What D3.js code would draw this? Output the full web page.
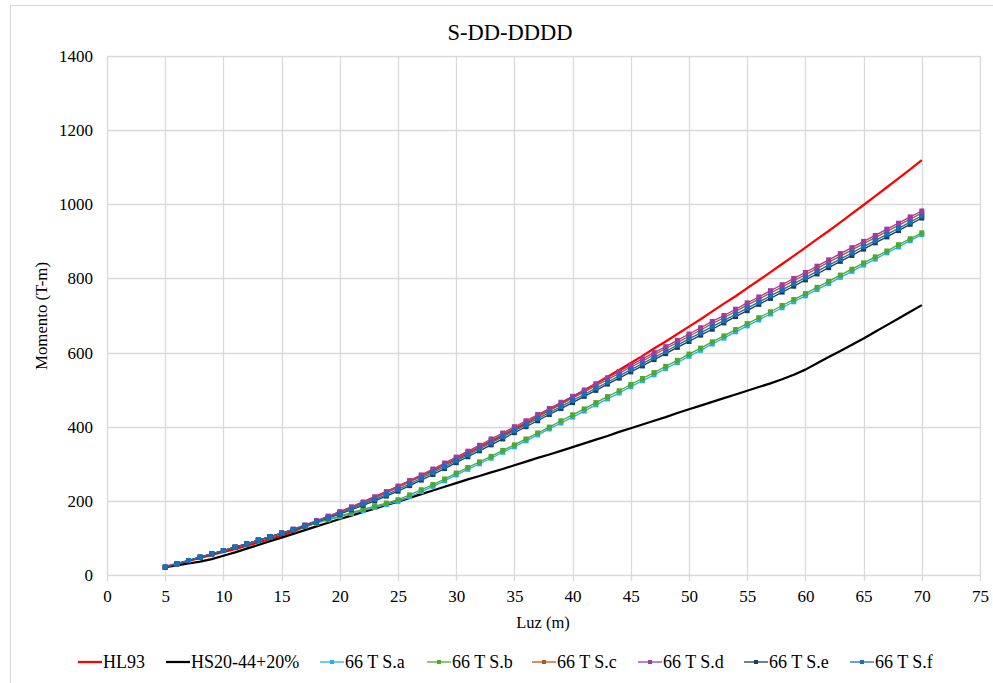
<!DOCTYPE html>
<html>
<head>
<meta charset="utf-8">
<script src="https://cdn.jsdelivr.net/npm/d3@7"></script>
<style>
  html, body { margin: 0; padding: 0; background: #fff; }
  svg text { font-family: "Liberation Serif", "Times New Roman", serif; fill: #000; }
</style>
</head>
<body>
<svg id="chart" width="993" height="683"></svg>
<script>
// Spans (m)
const spans = d3.range(5, 71);

// Bending moment (T-m) per span
const hl93 = [22,30,38,46,54,62,70,79,88,97,107,118,130,142,155,169,182,196,210,224,238,253,267,282,298,313,329,345,361,377,394,410,428,445,462,480,498,516,535,553,572,591,611,630,650,670,690,711,732,752,774,795,817,839,861,883,906,928,951,975,998,1022,1046,1070,1094,1119];
const hs20 = [21,26,31,36,43,52,61,71,81,91,101,111,121,131,141,151,160,170,179,189,198,208,218,228,238,248,258,267,277,286,296,306,316,325,335,345,355,365,375,386,396,406,416,426,437,447,457,467,477,487,497,507,517,528,540,554,571,588,604,621,638,656,674,692,710,728];
const sA = [21,30,39,48,57,66,75,84,94,103,113,122,131,140,149,157,166,174,182,190,198,211,225,239,254,270,285,300,315,331,346,362,378,394,410,426,442,459,475,491,508,524,540,557,573,590,606,623,639,656,672,688,704,721,737,753,770,786,803,819,836,852,869,885,902,918];
const sB = [21,30,39,48,57,66,75,84,94,103,113,122,132,141,150,159,168,177,186,194,203,216,230,244,259,275,290,305,320,336,351,367,383,399,416,432,448,465,481,497,514,530,546,563,579,596,612,629,645,662,678,694,710,727,743,759,776,792,809,825,842,858,874,891,907,923];
const sC = [21,30,39,48,57,66,75,84,94,103,113,123,134,145,157,169,182,195,208,222,237,252,267,283,298,314,330,346,363,379,396,412,428,445,461,477,494,511,527,544,561,577,594,611,627,644,661,678,694,711,728,744,761,777,794,810,827,844,860,877,894,910,927,943,960,976];
const sD = [21,30,39,48,57,66,75,84,94,103,113,124,135,147,159,171,184,197,211,225,240,255,270,286,302,318,334,350,367,383,400,416,433,449,466,482,499,516,532,549,566,583,600,616,633,650,667,684,700,717,734,750,767,783,800,816,833,850,867,883,900,916,933,949,966,982];
const sE = [21,30,39,48,57,66,75,84,94,103,113,121,132,143,154,164,176,188,200,213,226,241,256,271,287,303,319,335,351,367,384,400,416,433,449,465,482,498,515,531,548,564,581,597,614,630,647,663,680,697,713,730,746,763,779,796,812,829,846,862,879,896,912,929,946,963];
const sF = [21,30,39,48,57,66,75,84,94,103,113,122,133,144,155,166,178,191,204,217,231,246,261,276,292,308,324,340,356,373,389,405,422,438,454,471,487,504,520,537,554,570,587,603,620,637,653,670,686,703,720,736,753,769,786,802,819,836,852,869,886,902,919,935,952,969];

const seriesNames = ["HL93", "HS20-44+20%", "66 T S.a", "66 T S.b", "66 T S.c", "66 T S.d", "66 T S.e", "66 T S.f"];
const xTicks = d3.range(0, 76, 5);
const yTicks = d3.range(0, 1401, 200);

const series = [
  { name: seriesNames[0], values: hl93, color: "#FF0000", width: 2.25, marker: false },
  { name: seriesNames[1], values: hs20, color: "#000000", width: 2.25, marker: false },
  { name: seriesNames[2], values: sA, color: "#1CB2EE", width: 1.3, marker: true },
  { name: seriesNames[3], values: sB, color: "#4EA72E", width: 1.3, marker: true },
  { name: seriesNames[4], values: sC, color: "#B5561E", width: 1.3, marker: true },
  { name: seriesNames[5], values: sD, color: "#A33A9F", width: 1.3, marker: true },
  { name: seriesNames[6], values: sE, color: "#173F5F", width: 1.3, marker: true },
  { name: seriesNames[7], values: sF, color: "#1B6FB8", width: 1.3, marker: true }
];

const FONT = "Liberation Serif";
const svg = d3.select("#chart");
const plot = { left: 107, right: 980, top: 56, bottom: 575 };

// Chart frame
svg.append("rect")
  .attr("x", 10.5).attr("y", 5.5)
  .attr("width", 1000).attr("height", 700)
  .attr("fill", "#fff").attr("stroke", "#d9d9d9").attr("stroke-width", 1);

const x = d3.scaleLinear().domain([0, 75]).range([plot.left, plot.right]);
const y = d3.scaleLinear().domain([0, 1400]).range([plot.bottom, plot.top]);

// Horizontal gridlines
svg.append("g")
  .selectAll("line").data(yTicks).join("line")
  .attr("x1", plot.left).attr("x2", plot.right)
  .attr("y1", d => Math.round(y(d)) + 0.5).attr("y2", d => Math.round(y(d)) + 0.5)
  .attr("stroke", "#d9d9d9").attr("stroke-width", 1.3);

// Vertical gridlines with short ticks below the axis
svg.append("g")
  .selectAll("line").data(xTicks).join("line")
  .attr("x1", d => Math.round(x(d)) + 0.5).attr("x2", d => Math.round(x(d)) + 0.5)
  .attr("y1", plot.top).attr("y2", plot.bottom + 6)
  .attr("stroke", "#d9d9d9").attr("stroke-width", 1.3);

// Axis tick labels via d3 axes, with domain/tick lines hidden
const xAxis = svg.append("g")
  .attr("transform", `translate(0,${plot.bottom})`)
  .call(d3.axisBottom(x).tickValues(xTicks).tickFormat(d3.format("d")).tickSize(0).tickPadding(15));
xAxis.select(".domain").remove();
xAxis.attr("font-family", FONT).attr("font-size", 17);

const yAxis = svg.append("g")
  .attr("transform", `translate(${plot.left},0)`)
  .call(d3.axisLeft(y).tickValues(yTicks).tickFormat(d3.format("d")).tickSize(0).tickPadding(14));
yAxis.select(".domain").remove();
yAxis.attr("font-family", FONT).attr("font-size", 17);

// Title and axis titles
svg.append("text")
  .attr("x", 510).attr("y", 40)
  .attr("text-anchor", "middle").attr("font-size", 22.5).attr("font-family", FONT)
  .text("S-DD-DDDD");

svg.append("text")
  .attr("x", 543).attr("y", 628)
  .attr("text-anchor", "middle").attr("font-size", 16.5).attr("font-family", FONT)
  .text("Luz (m)");

svg.append("text")
  .attr("transform", "translate(47,316) rotate(-90)")
  .attr("text-anchor", "middle").attr("font-size", 16.8).attr("font-family", FONT)
  .text("Momento (T-m)");

// Series lines and markers
const line = d3.line().x((d, i) => x(spans[i])).y(d => y(d));
const ms = 5;

series.forEach(s => {
  const g = svg.append("g");
  g.append("path")
    .datum(s.values)
    .attr("d", line)
    .attr("fill", "none")
    .attr("stroke", s.color)
    .attr("stroke-width", s.width)
    .attr("stroke-linejoin", "round");
  if (s.marker) {
    g.selectAll("rect").data(s.values).join("rect")
      .attr("x", (d, i) => x(spans[i]) - ms / 2)
      .attr("y", d => y(d) - ms / 2)
      .attr("width", ms).attr("height", ms)
      .attr("fill", s.color);
  }
});

// Legend
const legendX = [78, 166, 320, 427, 532, 638, 744, 850];
const legendY = 662;
const legend = svg.append("g");
series.forEach((s, i) => {
  const lg = legend.append("g").attr("transform", `translate(${legendX[i]},${legendY})`);
  lg.append("line")
    .attr("x1", 0).attr("x2", 24).attr("y1", 0).attr("y2", 0)
    .attr("stroke", s.color).attr("stroke-width", s.width);
  if (s.marker) {
    lg.append("rect")
      .attr("x", 10).attr("y", -2).attr("width", 4).attr("height", 4)
      .attr("fill", s.color);
  }
  lg.append("text")
    .attr("x", 25).attr("y", 6)
    .attr("font-size", 18).attr("font-family", FONT)
    .text(s.name);
});
</script>
</body>
</html>
